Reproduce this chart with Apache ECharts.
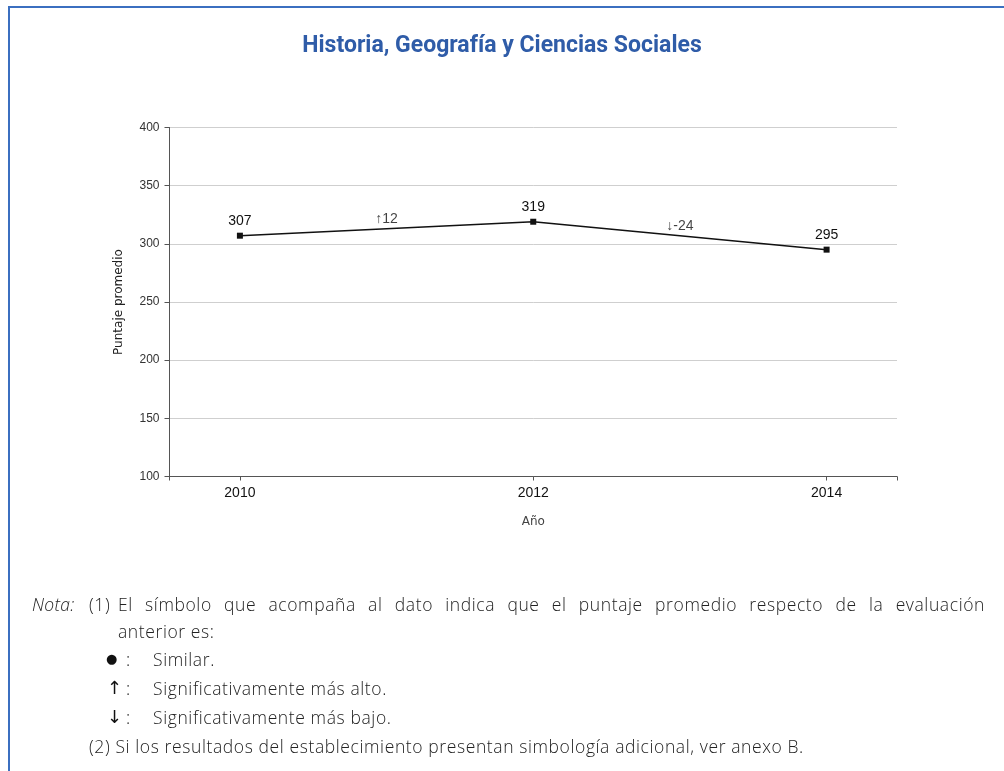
<!DOCTYPE html>
<html>
<head>
<meta charset="utf-8">
<script src="https://cdn.jsdelivr.net/npm/echarts@6/dist/echarts.min.js"></script>
<style>
    html, body { margin: 0; padding: 0; background: #fff; }
    #wrap { position: relative; width: 1004px; height: 771px; overflow: hidden; }
    #frame {
        position: absolute; left: 8px; top: 6px; width: 1010px; height: 800px;
        border-top: 2px solid #3b6fc0; border-left: 2px solid #3b6fc0;
    }
    #myChart { position: absolute; left: 0; top: 0; width: 1004px; height: 771px; }
    .nota {
        position: absolute; font-family: "Open Sans", "Noto Sans", sans-serif;
        font-weight: 300; font-size: 17.5px; letter-spacing: 0.6px; color: #222;
        line-height: 28px; white-space: nowrap;
    }
    .sym { font-family: "DejaVu Sans", sans-serif; font-weight: normal; font-size: 18px; color: #111; letter-spacing: 0; }
</style>
</head>
<body>
<div id="wrap">
    <div id="frame"></div>
    <div id="myChart"></div>
    <div class="nota" style="left:32px;top:590px;font-style:italic;letter-spacing:0.3px;">Nota:</div>
    <div class="nota" style="left:89px;top:590px;">(1)</div>
    <div class="nota" style="left:118px;top:590px;width:867px;text-align:justify;text-align-last:justify;">El símbolo que acompaña al dato indica que el puntaje promedio respecto de la evaluación</div>
    <div class="nota" style="left:118px;top:617px;">anterior es:</div>
    <div class="nota sym" style="left:106px;top:645px;font-size:13px;">●</div>
    <div class="nota" style="left:126px;top:645px;">:</div>
    <div class="nota" style="left:153px;top:645px;">Similar.</div>
    <div class="nota sym" style="left:107px;top:674px;">↑</div>
    <div class="nota" style="left:126px;top:674px;">:</div>
    <div class="nota" style="left:153px;top:674px;">Significativamente más alto.</div>
    <div class="nota sym" style="left:107px;top:703px;">↓</div>
    <div class="nota" style="left:126px;top:703px;">:</div>
    <div class="nota" style="left:153px;top:703px;">Significativamente más bajo.</div>
    <div class="nota" style="left:89px;top:732px;">(2) Si los resultados del establecimiento presentan simbología adicional, ver anexo B.</div>
</div>

<script>
    // datos del gráfico
    var years = [2010, 2012, 2014];
    var scores = [307, 319, 295];
    var changes = ['↑12', '↓-24'];
    var yTicks = [100, 150, 200, 250, 300, 350, 400];

    // puntos de las series
    var lineData = years.map(function (y, i) { return [y, scores[i]]; });
    var changeData = changes.map(function (c, i) {
        return {
            value: [(years[i] + years[i + 1]) / 2, (scores[i] + scores[i + 1]) / 2],
            label: c
        };
    });

    var xMin = 2009.52, xMax = 2014.48;

    var option = {
        animation: false,
        title: {
            text: 'Historia, Geografía y Ciencias Sociales',
            left: 'center',
            top: 30,
            textStyle: {
                color: '#2f5ca8',
                fontFamily: 'Roboto',
                fontWeight: 'bold',
                fontSize: 23
            }
        },
        grid: {
            left: 169.5,
            right: 107,
            top: 127.5,
            bottom: 294.5
        },
        xAxis: {
            type: 'value',
            min: xMin,
            max: xMax,
            name: 'Año',
            nameLocation: 'middle',
            nameGap: 39,
            nameTextStyle: { color: '#444', fontSize: 12, fontFamily: 'DejaVu Sans' },
            splitLine: { show: false },
            axisLine: { lineStyle: { color: '#555', width: 1 } },
            axisTick: {
                length: 4,
                lineStyle: { color: '#555' },
                customValues: [xMin, 2010, 2012, 2014, xMax]
            },
            axisLabel: {
                customValues: years,
                formatter: function (v) { return String(Math.round(v)); },
                color: '#111',
                fontSize: 14,
                fontFamily: 'Liberation Sans',
                margin: 10
            }
        },
        yAxis: {
            type: 'value',
            min: yTicks[0],
            max: yTicks[yTicks.length - 1],
            interval: 50,
            name: 'Puntaje promedio',
            nameLocation: 'middle',
            nameGap: 45,
            nameTextStyle: { color: '#222', fontSize: 12, fontFamily: 'DejaVu Sans' },
            axisLine: { show: true, lineStyle: { color: '#555', width: 1 } },
            axisTick: { show: true, length: 5, lineStyle: { color: '#555' } },
            axisLabel: { color: '#333', fontSize: 12, fontFamily: 'Liberation Sans', margin: 10 },
            splitLine: { lineStyle: { color: '#cfcfcf', width: 1 } }
        },
        series: [{
            type: 'line',
            data: lineData,
            symbol: 'rect',
            symbolSize: 6,
            lineStyle: { color: '#111', width: 1.5 },
            itemStyle: { color: '#111' },
            label: {
                show: true,
                position: 'top',
                distance: 5,
                color: '#111',
                fontSize: 14,
                fontFamily: 'Liberation Sans',
                formatter: function (p) { return p.value[1]; }
            }
        }, {
            type: 'scatter',
            data: changeData,
            symbolSize: 0,
            silent: true,
            label: {
                show: true,
                position: 'top',
                distance: 3,
                color: '#111',
                fontSize: 14,
                fontFamily: 'Liberation Sans',
                formatter: function (p) { return p.data.label; }
            }
        }]
    };

    var myChart = echarts.init(document.getElementById('myChart'));
    myChart.setOption(option);
</script>
</body>
</html>
